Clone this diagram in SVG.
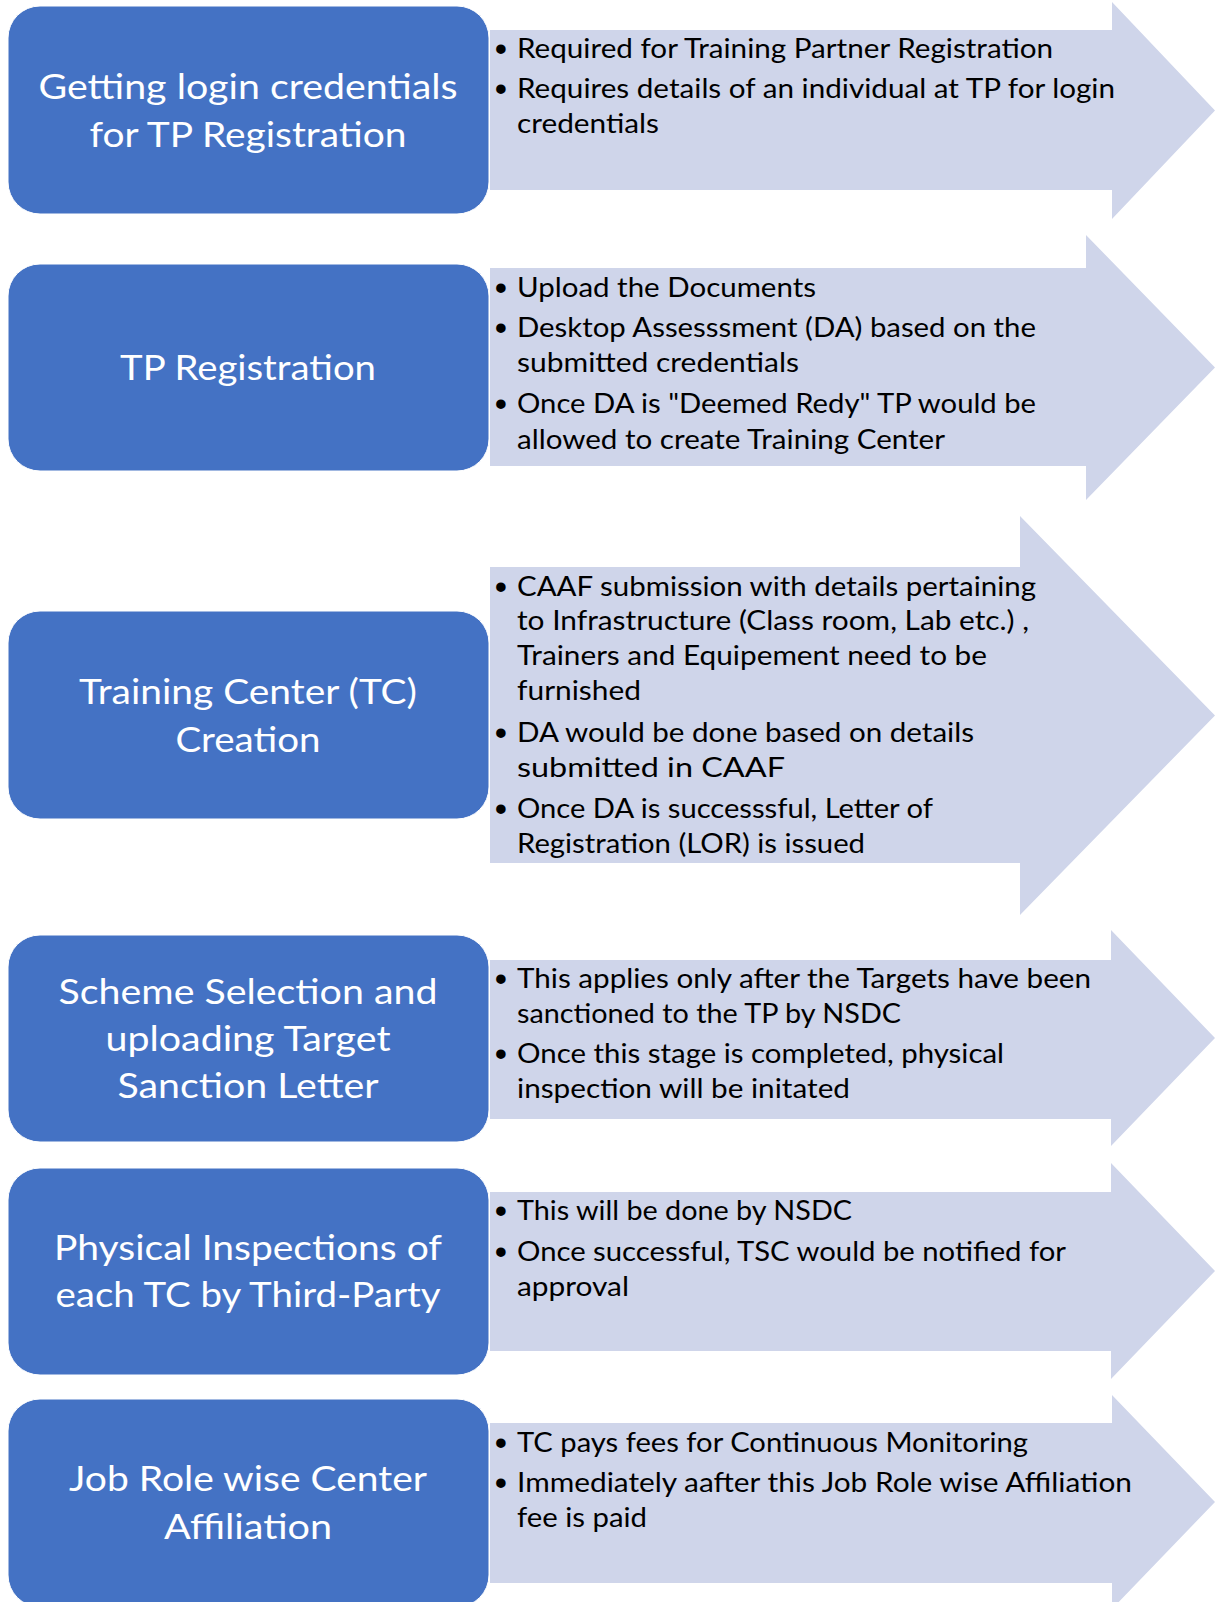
<svg xmlns="http://www.w3.org/2000/svg" width="1216" height="1602" viewBox="0 0 1216 1602">
<style>
.box{fill:#4472C4;stroke:#ffffff;stroke-width:1}
.arrow{fill:#CFD5EA}
.bt{font-family:Lato,"Open Sans","Liberation Sans",sans-serif;font-size:35px;fill:#ffffff;text-anchor:middle}
.tx{font-family:Lato,"Open Sans","Liberation Sans",sans-serif;font-size:27px;fill:#000000}
.bu{font-family:"Liberation Sans",sans-serif;font-size:35px;fill:#000000;text-anchor:middle}
</style>
<rect width="1216" height="1602" fill="#ffffff"/>
<g id="connectors"></g>

<g id="step1">
<polygon class="arrow" points="490,30 1112,30 1112,2 1215,110.5 1112,219 1112,190 490,190"/>
<rect class="box" x="8" y="6" width="481" height="208" rx="32"/>
<text class="bt" x="248" y="99" textLength="419" lengthAdjust="spacingAndGlyphs">Getting login credentials</text>
<text class="bt" x="248" y="147" textLength="317" lengthAdjust="spacingAndGlyphs">for TP Registration</text>
<text class="bu" x="501" y="61">•</text>
<text class="tx" x="517" y="58" textLength="536" lengthAdjust="spacingAndGlyphs">Required for Training Partner Registration</text>
<text class="bu" x="501" y="101">•</text>
<text class="tx" x="517" y="98" textLength="598" lengthAdjust="spacingAndGlyphs">Requires details of an individual at TP for login</text>
<text class="tx" x="517" y="133" textLength="142" lengthAdjust="spacingAndGlyphs">credentials</text>
</g>

<g id="step2">
<polygon class="arrow" points="490,268 1086,268 1086,235 1215,367.5 1086,500 1086,466 490,466"/>
<rect class="box" x="8" y="264" width="481" height="207" rx="32"/>
<text class="bt" x="248" y="380" textLength="256" lengthAdjust="spacingAndGlyphs">TP Registration</text>
<text class="bu" x="501" y="300">•</text>
<text class="tx" x="517" y="297" textLength="299" lengthAdjust="spacingAndGlyphs">Upload the Documents</text>
<text class="bu" x="501" y="340">•</text>
<text class="tx" x="517" y="337" textLength="519" lengthAdjust="spacingAndGlyphs">Desktop Assesssment (DA) based on the</text>
<text class="tx" x="517" y="372" textLength="282" lengthAdjust="spacingAndGlyphs">submitted credentials</text>
<text class="bu" x="501" y="416">•</text>
<text class="tx" x="517" y="413" textLength="519" lengthAdjust="spacingAndGlyphs">Once DA is "Deemed Redy" TP would be</text>
<text class="tx" x="517" y="449" textLength="428" lengthAdjust="spacingAndGlyphs">allowed to create Training Center</text>
</g>

<g id="step3">
<polygon class="arrow" points="490,567 1020,567 1020,516 1215,715.5 1020,915 1020,863 490,863"/>
<rect class="box" x="8" y="611" width="481" height="208" rx="32"/>
<text class="bt" x="248" y="704" textLength="338" lengthAdjust="spacingAndGlyphs">Training Center (TC)</text>
<text class="bt" x="248" y="752" textLength="145" lengthAdjust="spacingAndGlyphs">Creation</text>
<text class="bu" x="501" y="599">•</text>
<text class="tx" x="517" y="596" textLength="519" lengthAdjust="spacingAndGlyphs">CAAF submission with details pertaining</text>
<text class="tx" x="517" y="630" textLength="512" lengthAdjust="spacingAndGlyphs">to Infrastructure (Class room, Lab etc.) ,</text>
<text class="tx" x="517" y="665" textLength="470" lengthAdjust="spacingAndGlyphs">Trainers and Equipement need to be</text>
<text class="tx" x="517" y="700" textLength="124" lengthAdjust="spacingAndGlyphs">furnished</text>
<text class="bu" x="501" y="745">•</text>
<text class="tx" x="517" y="742" textLength="457" lengthAdjust="spacingAndGlyphs">DA would be done based on details</text>
<text class="tx" x="517" y="777" textLength="268" lengthAdjust="spacingAndGlyphs">submitted in CAAF</text>
<text class="bu" x="501" y="821">•</text>
<text class="tx" x="517" y="818" textLength="416" lengthAdjust="spacingAndGlyphs">Once DA is successsful, Letter of</text>
<text class="tx" x="517" y="853" textLength="348" lengthAdjust="spacingAndGlyphs">Registration (LOR) is issued</text>
</g>

<g id="step4">
<polygon class="arrow" points="490,960 1111,960 1111,930 1215,1038 1111,1146 1111,1119 490,1119"/>
<rect class="box" x="8" y="935" width="481" height="207" rx="32"/>
<text class="bt" x="248" y="1004" textLength="379" lengthAdjust="spacingAndGlyphs">Scheme Selection and</text>
<text class="bt" x="248" y="1051" textLength="285" lengthAdjust="spacingAndGlyphs">uploading Target</text>
<text class="bt" x="248" y="1098" textLength="261" lengthAdjust="spacingAndGlyphs">Sanction Letter</text>
<text class="bu" x="501" y="991">•</text>
<text class="tx" x="517" y="988" textLength="574" lengthAdjust="spacingAndGlyphs">This applies only after the Targets have been</text>
<text class="tx" x="517" y="1023" textLength="384" lengthAdjust="spacingAndGlyphs">sanctioned to the TP by NSDC</text>
<text class="bu" x="501" y="1066">•</text>
<text class="tx" x="517" y="1063" textLength="487" lengthAdjust="spacingAndGlyphs">Once this stage is completed, physical</text>
<text class="tx" x="517" y="1098" textLength="333" lengthAdjust="spacingAndGlyphs">inspection will be initated</text>
</g>

<g id="step5">
<polygon class="arrow" points="490,1192 1111,1192 1111,1163 1215,1271 1111,1379 1111,1351 490,1351"/>
<rect class="box" x="8" y="1168" width="481" height="207" rx="32"/>
<text class="bt" x="248" y="1260" textLength="388" lengthAdjust="spacingAndGlyphs">Physical Inspections of</text>
<text class="bt" x="248" y="1307" textLength="385" lengthAdjust="spacingAndGlyphs">each TC by Third-Party</text>
<text class="bu" x="501" y="1223">•</text>
<text class="tx" x="517" y="1220" textLength="335" lengthAdjust="spacingAndGlyphs">This will be done by NSDC</text>
<text class="bu" x="501" y="1264">•</text>
<text class="tx" x="517" y="1261" textLength="549" lengthAdjust="spacingAndGlyphs">Once successful, TSC would be notified for</text>
<text class="tx" x="517" y="1296" textLength="112" lengthAdjust="spacingAndGlyphs">approval</text>
</g>

<g id="step6">
<polygon class="arrow" points="490,1423 1112,1423 1112,1395 1215,1502 1112,1609 1112,1583 490,1583"/>
<rect class="box" x="8" y="1399" width="481" height="208" rx="32"/>
<text class="bt" x="248" y="1491" textLength="358" lengthAdjust="spacingAndGlyphs">Job Role wise Center</text>
<text class="bt" x="248" y="1539" textLength="168" lengthAdjust="spacingAndGlyphs">Affiliation</text>
<text class="bu" x="501" y="1455">•</text>
<text class="tx" x="517" y="1452" textLength="511" lengthAdjust="spacingAndGlyphs">TC pays fees for Continuous Monitoring</text>
<text class="bu" x="501" y="1495">•</text>
<text class="tx" x="517" y="1492" textLength="615" lengthAdjust="spacingAndGlyphs">Immediately aafter this Job Role wise Affiliation</text>
<text class="tx" x="517" y="1527" textLength="130" lengthAdjust="spacingAndGlyphs">fee is paid</text>
</g>
</svg>
